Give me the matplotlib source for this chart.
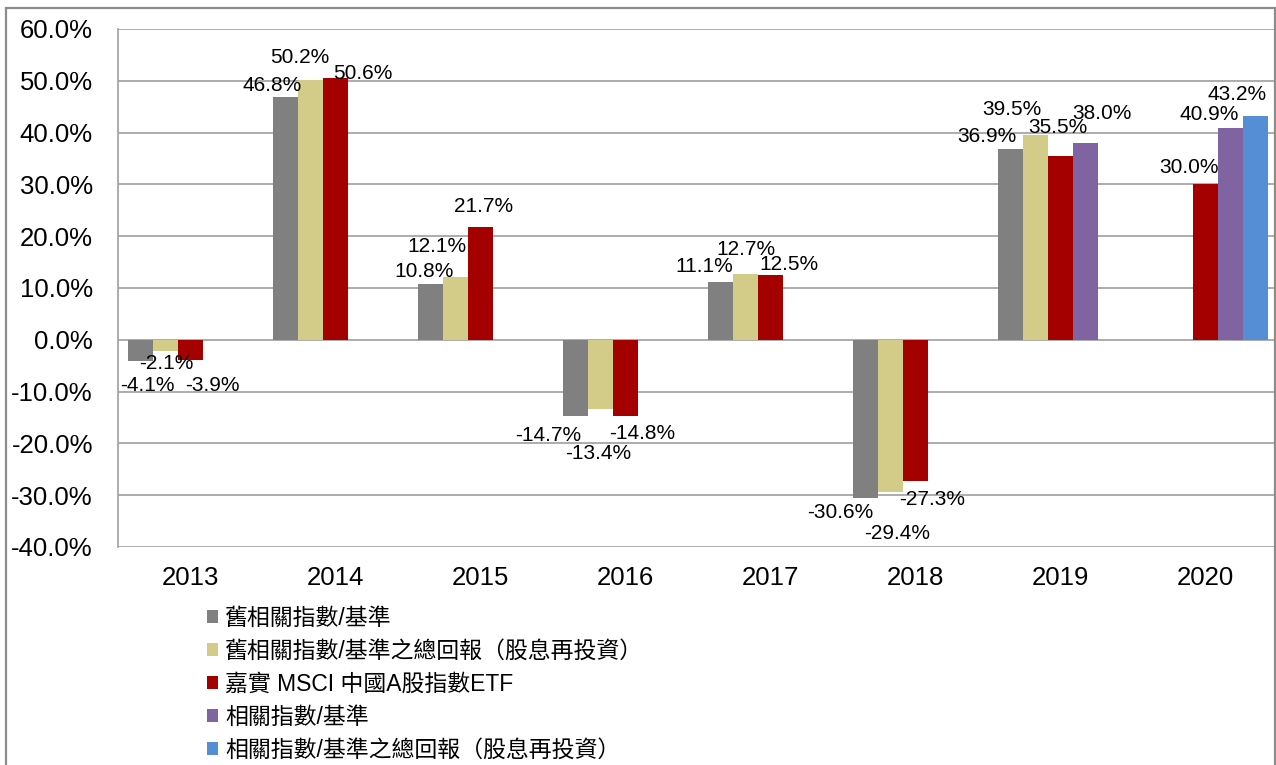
import numpy as np
import matplotlib
matplotlib.use('Agg')
import matplotlib.pyplot as plt
from matplotlib.patches import Patch, Rectangle

plt.rcParams['font.family'] = ['Liberation Sans', 'Noto Sans CJK TC']

years = ['2013', '2014', '2015', '2016', '2017', '2018', '2019', '2020']
series_names = ['舊相關指數/基準',
                '舊相關指數/基準之總回報（股息再投資）',
                '嘉實 MSCI 中國A股指數ETF',
                '相關指數/基準',
                '相關指數/基準之總回報（股息再投資）']
old_index = [-4.1, 46.8, 10.8, -14.7, 11.1, -30.6, 36.9, None]
old_index_tr = [-2.1, 50.2, 12.1, -13.4, 12.7, -29.4, 39.5, None]
fund = [-3.9, 50.6, 21.7, -14.8, 12.5, -27.3, 35.5, 30.0]
new_index = [None, None, None, None, None, None, 38.0, 40.9]
new_index_tr = [None, None, None, None, None, None, None, 43.2]
series = [old_index, old_index_tr, fund, new_index, new_index_tr]
colors = ['#808080', '#D3CC88', '#A50000', '#8064A2', '#558ED5']

# label nudges (pixels: right, down) from the bar end, to match the original placement
label_nudge = [
    [(7, 23), (-13, -13), (-6, -14), (-27, 18), (-16, -17), (-25, 13), (-24, -14), None],
    [(1, 11), (-11, -24), (-19, -32), (-2, 43), (0, -26), (7, 40), (-24, -27), None],
    [(22, 24), (27, -6), (3, -22), (17, 16), (18, -12), (17, 17), (-3, -30), (-16, -18)],
    [None] * 6 + [(16, -31), (-21, -15)],
    [None] * 7 + [(-18, -23)],
]

fig = plt.figure(figsize=(12.76, 7.65), dpi=100)
W, H = 1276, 765
ax = fig.add_axes([118 / W, 218 / H, 1160 / W, 518 / H])

grid_c = '#A6A6A6'
width = 25 / 145
x = np.arange(len(years))

for j, vals in enumerate(series):
    xs = [x[i] + (j - 2) * width for i, v in enumerate(vals) if v is not None]
    hs = [v for v in vals if v is not None]
    ax.bar(xs, hs, width=width, color=colors[j], zorder=3, linewidth=0)
    for i, v in enumerate(vals):
        if v is None:
            continue
        dx, dy = label_nudge[j][i]
        ax.annotate('{:.1f}%'.format(v), xy=(x[i] + (j - 2) * width, v),
                    xytext=(dx * 0.72, -(dy + 7) * 0.72), textcoords='offset points',
                    ha='center', va='baseline', fontsize=15, color='black', zorder=4)

ax.set_xlim(-0.5, 7.5)
ax.set_ylim(-40, 60)
ax.set_yticks(np.arange(-40, 61, 10))
ax.set_yticklabels(['{:.1f}%'.format(t) for t in np.arange(-40, 61, 10)])
ax.set_xticks(x)
ax.set_xticklabels(years)
ax.tick_params(axis='y', length=0, pad=18, labelsize=18.5)
ax.tick_params(axis='x', length=0, pad=14, labelsize=18.5)
ax.yaxis.grid(True, color=grid_c, linewidth=1.3, zorder=0)
ax.set_axisbelow(True)
for s in ('top', 'right', 'bottom'):
    ax.spines[s].set_visible(False)
ax.spines['left'].set_color(grid_c)
ax.spines['left'].set_linewidth(1.3)

handles = [Patch(facecolor=c, edgecolor='none') for c in colors]
fig.legend(handles, series_names, loc='upper left', bbox_to_anchor=(207 / W, 1 - 607 / H),
           frameon=False, fontsize=16.5, handlelength=0.5, handleheight=0.5,
           handletextpad=0.3, labelspacing=0.43, borderpad=0, borderaxespad=0)

# outer chart frame
fig.add_artist(Rectangle((6 / W, -0.05), (1275 - 6) / W, 1.05 - 8 / H,
                         transform=fig.transFigure, fill=False,
                         edgecolor='#8C8C8C', linewidth=1.6))

fig.savefig('out.png', dpi=100)
